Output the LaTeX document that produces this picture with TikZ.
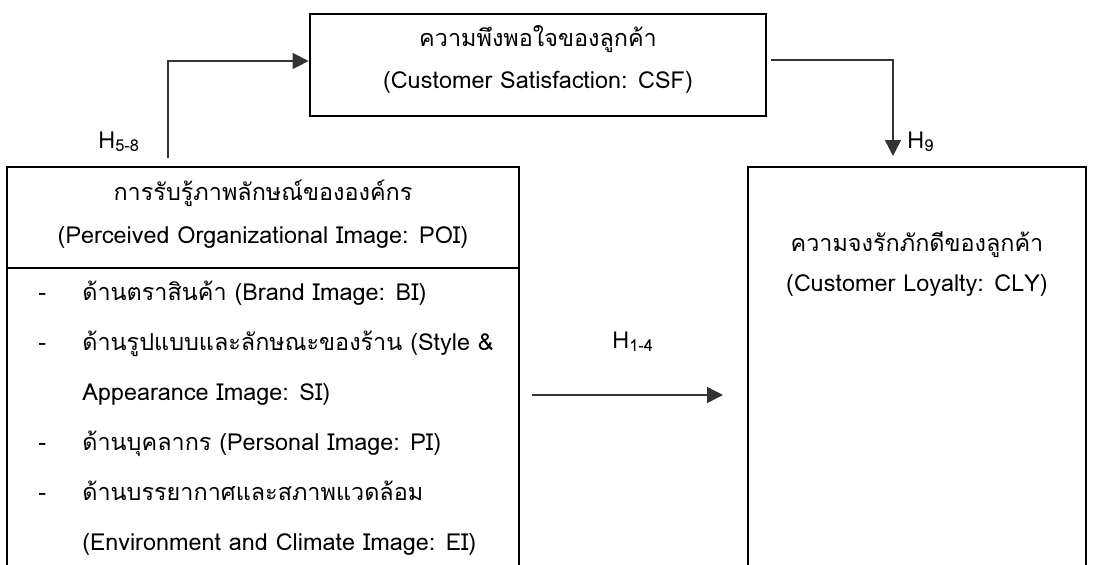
\documentclass[tikz,border=0pt]{standalone}
\usepackage{fontspec}
\setmainfont[Script=Thai]{Loma}
\usetikzlibrary{arrows.meta,calc}
\newcommand\hyp[2]{#1\textsubscript{#2}}
\begin{document}
\begin{tikzpicture}[x=0.5pt,y=-0.5pt,
  boxline/.style={draw=black, line width=1.4pt, inner sep=0pt},
  conn/.style={draw=black!80, line width=0.7pt, -{Triangle[length=8pt,width=8pt]}},
  txt/.style={font=\fontsize{11.7}{14}\selectfont, inner sep=0pt, anchor=base},
  itm/.style={font=\fontsize{11.7}{14}\selectfont, inner sep=0pt, anchor=base west},
  hlab/.style={font=\fontsize{11.7}{14}\selectfont, inner sep=0pt, anchor=base west}]
\useasboundingbox (0,0) rectangle (1094,564);
\clip (0,0) rectangle (1094,564);
% boxes
\node[boxline, minimum width=228pt, minimum height=51pt] (csf) at (538,65) {};
\node[boxline, minimum width=256pt, minimum height=236.5pt] (poi) at (263,403.5) {};
\node[boxline, minimum width=169pt, minimum height=236.5pt] (cly) at (917,403.5) {};
\draw[line width=1.4pt] (poi.west |- 0,268) coordinate (dl) -- (poi.east |- 0,268) coordinate (dr);
% texts
\node[txt] (csf1) at (538,46) {ความพึงพอใจของลูกค้า};
\node[txt] (csf2) at (538,88) {(Customer Satisfaction: CSF)};
\node[txt] (poi1) at (263,200) {การรับรู้ภาพลักษณ์ขององค์กร};
\node[txt] (poi2) at (263,243) {(Perceived Organizational Image: POI)};
\node[txt] (cly1) at (917,251) {ความจงรักภักดีของลูกค้า};
\node[txt] (cly2) at (917,291) {(Customer Loyalty: CLY)};
% items
\node[itm] (d1) at (38,300) {-};
\node[itm] (d2) at (38,350) {-};
\node[itm] (d3) at (38,450) {-};
\node[itm] (d4) at (38,500) {-};
\node[itm] (i1) at (82,300) {ด้านตราสินค้า (Brand Image: BI)};
\node[itm] (i2) at (82,350) {ด้านรูปแบบและลักษณะของร้าน (Style \&};
\node[itm] (i3) at (82,400) {Appearance Image: SI)};
\node[itm] (i4) at (82,450) {ด้านบุคลากร (Personal Image: PI)};
\node[itm] (i5) at (82,500) {ด้านบรรยากาศและสภาพแวดล้อม};
\node[itm] (i6) at (82,550) {(Environment and Climate Image: EI)};
% connectors
\coordinate (s58) at (168,158);
\coordinate (e9) at (893,156);
\coordinate (s14) at (532,395);
\coordinate (e14) at (723,395);
\draw[conn] (s58) |- ([yshift=2pt]csf.west);
\draw[conn] ([xshift=2pt,yshift=2.5pt]csf.east) -| (e9);
\draw[conn] (s14) -- (e14);
% labels
\node[hlab] (h58) at (98,148) {\hyp{H}{5-8}};
\node[hlab] (h9) at (907,148) {\hyp{H}{9}};
\node[hlab] (h14) at (612,348) {\hyp{H}{1-4}};
\end{tikzpicture}
\end{document}
